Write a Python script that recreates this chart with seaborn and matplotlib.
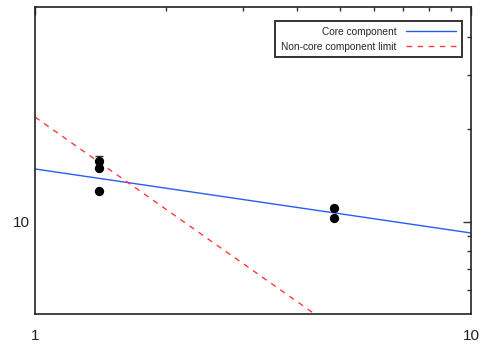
import numpy as np
import pandas as pd
import seaborn as sns
import matplotlib
matplotlib.use("Agg")
import matplotlib.pyplot as plt
from matplotlib.ticker import FixedLocator, NullFormatter, FixedFormatter

# measured points
pt_x = [1.4, 1.4, 1.4, 4.85, 4.85]
pt_y = [15.7, 15.0, 12.6, 11.07, 10.25]
pt_err_up = [0.7, 0.0, 0.0, 0.0, 0.0]

# model lines (end points)
core_x = [1.0, 10.0]
core_y = [14.84, 9.18]
noncore_x = [1.0, 10.0]
noncore_y = [21.9, 2.19]

x_ticks = [1, 10]
x_ticklabels = ["1", "10"]
y_ticks = [10]
y_ticklabels = ["10"]

sns.set_style("white")
plt.rcParams["font.family"] = ["Liberation Sans", "DejaVu Sans"]

fig = plt.figure(figsize=(4.87, 3.47), dpi=100)
ax = fig.add_axes([35 / 487, 1 - 314 / 347, 436 / 487, 307 / 347])

lines = pd.DataFrame({
    "x": core_x + noncore_x,
    "y": core_y + noncore_y,
    "label": ["Core component"] * 2 + ["Non-core component limit"] * 2,
})
sns.lineplot(data=lines, x="x", y="y", hue="label", style="label",
             palette={"Core component": "#2a5cf0", "Non-core component limit": "#ff3a3a"},
             dashes={"Core component": "", "Non-core component limit": (4, 4)},
             linewidth=1.0, ax=ax)

ax.errorbar(pt_x, pt_y, yerr=[np.zeros(len(pt_y)), pt_err_up], fmt="none",
            ecolor="#333333", elinewidth=1.0, capsize=3, zorder=3)
sns.scatterplot(x=pt_x, y=pt_y, color="black", s=45, edgecolor="black",
                linewidth=0, ax=ax, zorder=4)

ax.set_xscale("log")
ax.set_yscale("log")
ax.set_xlim(1, 10)
ax.set_ylim(5, 50)
ax.set_xlabel("")
ax.set_ylabel("")

ax.xaxis.set_major_locator(FixedLocator(x_ticks))
ax.xaxis.set_major_formatter(FixedFormatter(x_ticklabels))
ax.xaxis.set_minor_locator(FixedLocator([2, 3, 4, 5, 6, 7, 8, 9]))
ax.xaxis.set_minor_formatter(NullFormatter())
ax.yaxis.set_major_locator(FixedLocator(y_ticks))
ax.yaxis.set_major_formatter(FixedFormatter(y_ticklabels))
ax.yaxis.set_minor_locator(FixedLocator([6, 7, 8, 9, 20, 30, 40]))
ax.yaxis.set_minor_formatter(NullFormatter())

ax.tick_params(which="both", direction="in", top=True, right=True,
               color="#333333", width=1.0, labelsize=11, labelcolor="#222222")
ax.tick_params(which="major", length=6)
ax.tick_params(which="minor", length=3)
ax.tick_params(axis="x", which="major", pad=11)
ax.tick_params(axis="y", which="major", pad=4)

for s in ax.spines.values():
    s.set_color("#222222")
    s.set_linewidth(1.2)

leg = ax.legend(loc="upper right", bbox_to_anchor=(0.979, 0.954), borderaxespad=0,
                markerfirst=False, fontsize=7.3, frameon=True, fancybox=False,
                edgecolor="black", handlelength=5.0, handletextpad=0.9,
                borderpad=0.55, labelspacing=0.5, title=None)
leg.get_frame().set_linewidth(1.4)
for t in leg.get_texts():
    t.set_ha("right")

fig.savefig("out.png", dpi=100)
